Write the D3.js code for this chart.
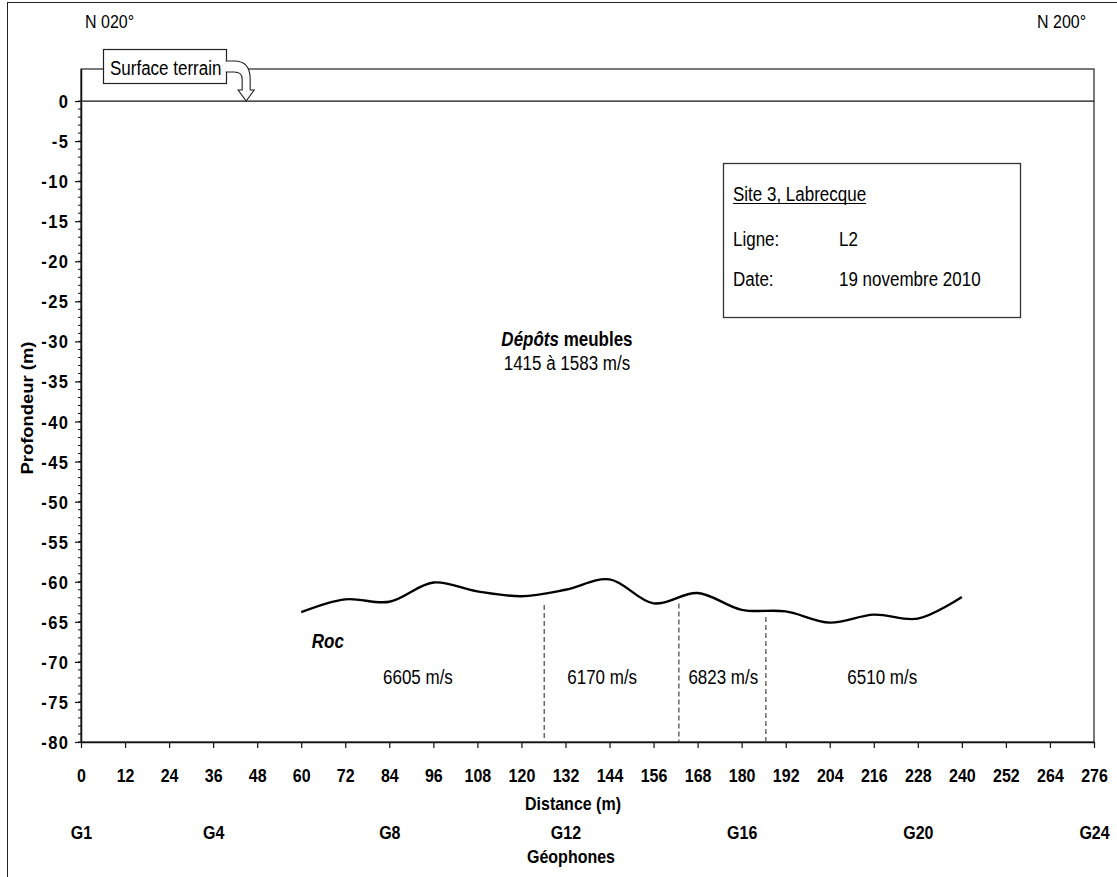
<!DOCTYPE html>
<html>
<head>
<meta charset="utf-8">
<script src="https://cdn.jsdelivr.net/npm/d3@7"></script>
<style>
  html, body { margin: 0; padding: 0; background: #fff; }
  svg { display: block; font-family: "Liberation Sans", Arial, sans-serif; }
</style>
</head>
<body>
<svg id="chart" width="1117" height="877"></svg>
<script>
// Bedrock surface along seismic line L2 (distance in m, depth in m)
const rocDist  = [60, 72, 84, 96, 108, 120, 132, 144, 156, 168, 180, 192, 204, 216, 228, 240];
const rocDepth = [-63.8, -62.2, -62.5, -60.1, -61.2, -61.8, -61.0, -59.7, -62.7, -61.4, -63.5, -63.7, -65.1, -64.1, -64.6, -61.9];

// Velocity zone boundaries in the rock (distance, top of dashed line)
const boundDist  = [126.2, 162.9, 186.6];
const boundTop   = [-62.9, -62.7, -64.4];

// Rock velocity labels and their positions
const velLabels = ["6605 m/s", "6170 m/s", "6823 m/s", "6510 m/s"];
const velDist   = [91.8, 142.0, 175.0, 218.3];
const velDepth  = -72.8;

// Axis ticks
const distTicks  = d3.range(0, 277, 12);
const depthTicks = d3.range(-80, 1, 5);
const depthMinor = d3.range(-80, 1, 1);
const geoLabels  = ["G1", "G4", "G8", "G12", "G16", "G20", "G24"];
const geoDist    = [0, 36, 84, 132, 180, 228, 276];

// Info box
const infoTitle = "Site 3, Labrecque";
const infoKeys  = ["Ligne:", "Date:"];
const infoVals  = ["L2", "19 novembre 2010"];

const svg = d3.select("#chart");
const SY = 1.15; // vertical text stretch
const plain = d => String(d); // keeps the ASCII hyphen for negatives

const x = d3.scaleLinear().domain([0, 276]).range([81, 1094]);
const y = d3.scaleLinear().domain([-80, 4]).range([742, 69]);

// place a text with its baseline at (px, py), stretched vertically
function txt(px, py, s, opts = {}) {
  const t = svg.append("text")
    .attr("transform", `translate(${px},${py}) scale(1,${SY})${opts.rotate ? " rotate(" + opts.rotate + ")" : ""}`)
    .attr("font-size", opts.size || 17)
    .attr("font-weight", opts.bold ? "bold" : null)
    .attr("font-style", opts.italic ? "italic" : null)
    .attr("text-anchor", opts.anchor || "start")
    .attr("fill", "#000")
    .text(s);
  return t;
}

// outer frame
svg.append("rect").attr("x", 7.5).attr("y", 2.5).attr("width", 1120).attr("height", 880)
  .attr("fill", "none").attr("stroke", "#222").attr("stroke-width", 1);

// plot frame
svg.append("rect").attr("x", x(0)).attr("y", y(4)).attr("width", x(276) - x(0)).attr("height", y(-80) - y(4))
  .attr("fill", "none").attr("stroke", "#222").attr("stroke-width", 1.2);
// ground surface line
svg.append("line").attr("x1", x(0)).attr("x2", x(276)).attr("y1", y(0)).attr("y2", y(0))
  .attr("stroke", "#111").attr("stroke-width", 1.2);

// x axis (distance)
const gx = svg.append("g").attr("transform", `translate(0,${y(-80)})`)
  .call(d3.axisBottom(x).tickValues(distTicks).tickSize(6).tickSizeOuter(0).tickFormat(plain));
gx.select(".domain").attr("stroke", "#111").attr("stroke-width", 1.5);
gx.selectAll(".tick line").attr("stroke", "#111").attr("stroke-width", 1.2);
gx.selectAll(".tick text").attr("y", null).attr("dy", null)
  .attr("transform", `translate(0,40) scale(1,${SY})`)
  .attr("font-size", 16).attr("font-weight", "bold").attr("fill", "#000")
  .attr("font-family", "Liberation Sans, Arial, sans-serif");

// geophone row
const gg = svg.append("g").attr("transform", `translate(0,${y(-80)})`)
  .call(d3.axisBottom(x).tickValues(geoDist).tickSize(0).tickFormat((d, i) => geoLabels[i]));
gg.select(".domain").remove();
gg.selectAll(".tick text").attr("y", null).attr("dy", null)
  .attr("transform", `translate(0,97) scale(1,${SY})`)
  .attr("font-size", 16).attr("font-weight", "bold").attr("fill", "#000")
  .attr("font-family", "Liberation Sans, Arial, sans-serif");

// y axis minor ticks
svg.append("g").selectAll("line").data(depthMinor).join("line")
  .attr("x1", x(0) - 3).attr("x2", x(0)).attr("y1", d => y(d)).attr("y2", d => y(d))
  .attr("stroke", "#111").attr("stroke-width", 1);

// y axis (depth)
const gy = svg.append("g").attr("transform", `translate(${x(0)},0)`)
  .call(d3.axisLeft(y).tickValues(depthTicks).tickSize(6).tickSizeOuter(0).tickFormat(plain));
gy.select(".domain").attr("stroke", "#111").attr("stroke-width", 1.5);
gy.selectAll(".tick line").attr("stroke", "#111").attr("stroke-width", 1.2);
gy.selectAll(".tick text").attr("x", null).attr("dy", null)
  .attr("transform", `translate(-11.5,6.5) scale(1,${SY})`)
  .attr("font-size", 16.5).attr("font-weight", "bold").attr("letter-spacing", 1.5).attr("fill", "#000")
  .attr("font-family", "Liberation Sans, Arial, sans-serif");

// axis titles
txt(573, 810, "Distance (m)", { bold: true, size: 16, anchor: "middle" });
txt(571, 863, "Géophones", { bold: true, size: 16, anchor: "middle" });
txt(33, 408, "Profondeur (m)", { bold: true, size: 16, anchor: "middle", rotate: -90 });

// orientation labels
txt(85, 28, "N 020°", { size: 16 });
txt(1037, 28, "N 200°", { size: 16 });

// velocity zone boundaries
svg.append("g").selectAll("line").data(boundDist).join("line")
  .attr("x1", d => x(d)).attr("x2", d => x(d))
  .attr("y1", (d, i) => y(boundTop[i])).attr("y2", y(-80))
  .attr("stroke", "#444").attr("stroke-width", 1.2).attr("stroke-dasharray", "5,3");

// bedrock surface
const rocPts = rocDist.map((d, i) => [d, rocDepth[i]]);
svg.append("path").datum(rocPts)
  .attr("fill", "none").attr("stroke", "#000").attr("stroke-width", 2.4)
  .attr("d", d3.line().x(d => x(d[0])).y(d => y(d[1])).curve(d3.curveCatmullRom.alpha(0.5)));

// layer labels
const depX = x(132.4);
const depT = svg.append("text")
  .attr("transform", `translate(${depX},${y(-30.6)}) scale(1,${SY})`)
  .attr("text-anchor", "middle").attr("font-size", 17).attr("font-weight", "bold");
depT.append("tspan").attr("font-style", "italic").text("Dépôts");
depT.append("tspan").text(" meubles");
txt(depX, y(-33.6), "1415 à 1583 m/s", { size: 17, anchor: "middle" });
txt(x(62.9), y(-68.3), "Roc", { size: 17, bold: true, italic: true });

velLabels.forEach((s, i) => txt(x(velDist[i]), y(velDepth), s, { size: 17, anchor: "middle" }));

// info box
svg.append("rect").attr("x", 723.5).attr("y", 163.5).attr("width", 297).attr("height", 154)
  .attr("fill", "#fff").attr("stroke", "#333").attr("stroke-width", 1.3);
const tTitle = txt(733, 201, infoTitle, { size: 17 });
const tw = tTitle.node().getComputedTextLength();
svg.append("line").attr("x1", 733).attr("x2", 733 + tw).attr("y1", 203.5).attr("y2", 203.5)
  .attr("stroke", "#000").attr("stroke-width", 1.2);
infoKeys.forEach((k, i) => {
  txt(733, 246 + i * 40, k, { size: 17 });
  txt(839, 246 + i * 40, infoVals[i], { size: 17 });
});

// ground surface callout
svg.append("rect").attr("x", 103.5).attr("y", 49.5).attr("width", 123).attr("height", 34)
  .attr("fill", "#fff").attr("stroke", "#222").attr("stroke-width", 1.2);
txt(110, 75, "Surface terrain", { size: 17 });
const ax = x(45), ay = y(0);
const arrowPath = [
  `M${ax - 20.5},${ay - 40}`,
  `L${ax - 12},${ay - 40}`,
  `Q${ax + 4},${ay - 40} ${ax + 4},${ay - 22}`,
  `L${ax + 4},${ay - 11}`,
  `L${ax + 8},${ay - 11}`,
  `L${ax},${ay}`,
  `L${ax - 8},${ay - 11}`,
  `L${ax - 4},${ay - 11}`,
  `L${ax - 4},${ay - 22}`,
  `Q${ax - 4},${ay - 29} ${ax - 12},${ay - 29}`,
  `L${ax - 20.5},${ay - 29}`
].join(" ");
svg.append("path").attr("d", arrowPath)
  .attr("fill", "#fff").attr("stroke", "#222").attr("stroke-width", 1.1);
</script>
</body>
</html>
